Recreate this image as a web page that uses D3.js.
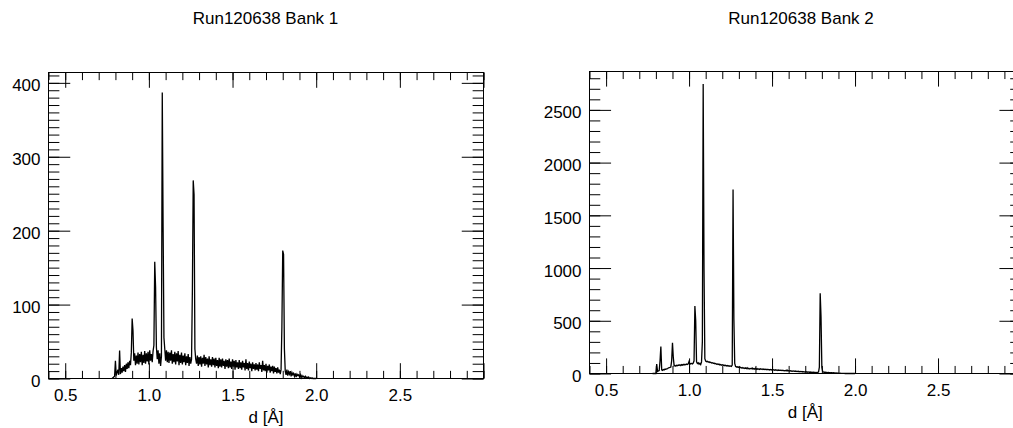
<!DOCTYPE html>
<html>
<head>
<meta charset="utf-8">
<script src="https://cdn.jsdelivr.net/npm/d3@7/dist/d3.min.js"></script>
<style>
html,body{margin:0;padding:0;background:#fff;}
svg{display:block;}
text{font-family:"Liberation Sans",Arial,Helvetica,sans-serif;fill:#000;}
</style>
</head>
<body>
<svg id="chart" width="1013" height="428"></svg>
<script>
// ---------------- DATA ----------------
const titles = ["Run120638 Bank 1", "Run120638 Bank 2"];
const xLabel = "d [\u00C5]";
const xDomain = [0.4, 3.0];
const xTicks = [0.5, 1.0, 1.5, 2.0, 2.5, 3.0];
const bank1YTicks = [0, 100, 200, 300, 400];
const bank2YTicks = [0, 500, 1000, 1500, 2000, 2500];
const bank1YMax = 414;
const bank2YMax = 2864;

// histogram bins: first bin centre and bin width in d (Angstrom)
const binStart = 0.780;
const binWidth = 0.005;

const bank1Counts = [
 0,1,2,3,24,4,8,12,5,38,
 6,14,8,16,10,18,9,20,13,22,
 14,24,18,35,81,65,24,34,18,31,
 20,35,19,33,22,36,18,32,21,37,
 20,34,23,36,19,38,24,33,22,37,
 45,158,124,42,26,38,20,34,17,30,
 387,205,55,40,24,38,22,36,21,35,
 24,38,20,33,22,36,19,34,23,37,
 18,32,21,35,19,31,22,34,18,30,
 21,33,17,29,20,26,120,268,249,40,
 26,20,31,17,29,19,30,16,28,20,
 32,17,29,19,27,15,30,18,26,16,
 29,18,27,15,28,17,25,14,28,16,
 26,15,27,17,24,13,26,16,25,14,
 27,15,23,13,26,16,24,12,25,15,
 22,13,25,14,22,12,24,15,21,11,
 26,13,21,11,23,14,20,10,22,13,
 19,11,21,12,19,10,22,13,18,9,
 24,11,18,10,20,8,17,11,19,8,
 16,10,17,7,16,9,14,7,15,8,
 12,6,12,70,173,168,40,10,5,12,
 4,9,6,10,3,8,5,7,3,7,
 2,6,4,5,2,5,1,4,2,3,
 1,3,1,2,1,2,0,1,0,1,
 0,0,0,0,0
];

const bank2Counts = [
 0,0,0,0,0,90,20,25,28,120,
 255,35,30,38,34,42,39,45,47,52,
 55,58,62,120,292,150,72,76,70,78,
 74,80,77,82,75,84,79,86,81,88,
 83,90,85,92,115,88,93,96,91,99,
 120,640,500,110,95,102,88,96,85,110,
 300,2745,1000,140,118,112,116,108,111,104,
 107,100,103,96,99,92,95,88,91,85,
 89,82,86,79,83,77,80,74,78,72,
 76,70,74,68,72,67,80,1745,520,95,
 68,62,64,58,61,55,59,52,56,50,
 54,48,53,46,55,44,50,43,48,45,
 52,41,47,42,50,40,46,41,44,39,
 45,40,43,38,42,37,41,36,40,35,
 39,34,38,33,37,32,36,31,35,30,
 34,29,33,30,32,28,31,27,30,26,
 29,25,34,24,27,23,26,22,25,21,
 24,20,23,19,22,18,21,17,20,16,
 19,15,18,14,17,13,16,12,15,12,
 14,11,13,10,12,10,11,9,11,10,
 14,60,760,540,60,18,14,12,13,10,
 11,9,10,8,9,7,8,6,7,5,
 6,4,5,3,4,2,3,2,2,1,
 1,1,0,0,0,0,0,0,0,0,
 0,0,0,0,0
];

// ---------------- LAYOUT ----------------
const svg = d3.select("#chart");
const panels = [
  {counts: bank1Counts, yMax: bank1YMax, yTicks: bank1YTicks, yMinorStep: 10,
   left: 48.5, right: 483.5, top: 72.5, bottom: 378.5, titleX: 265.5},
  {counts: bank2Counts, yMax: bank2YMax, yTicks: bank2YTicks, yMinorStep: 100,
   left: 589.5, right: 1021, top: 71.5, bottom: 373.5, titleX: 801}
];

const fontSize = 17;

panels.forEach((p, k) => {
  const w = p.right - p.left, h = p.bottom - p.top;
  const x = d3.scaleLinear().domain(xDomain).range([p.left, p.right]);
  const y = d3.scaleLinear().domain([0, p.yMax]).range([p.bottom, p.top]);
  const xMajLen = 0.05 * h, xMinLen = xMajLen / 2;
  const yMajLen = 0.05 * w, yMinLen = yMajLen / 2;
  const xMinor = d3.range(0, 27).map(i => +(0.4 + i * 0.1).toFixed(2));
  const yMinor = d3.range(0, Math.floor(p.yMax / p.yMinorStep) + 1).map(i => i * p.yMinorStep);

  const g = svg.append("g");

  // title
  g.append("text").attr("x", p.titleX).attr("y", 24)
    .attr("text-anchor", "middle").style("font-size", fontSize + "px")
    .text(titles[k]);

  // data line
  const line = d3.line()
    .x((v, i) => x(binStart + i * binWidth))
    .y(v => y(v));
  g.append("path").datum(p.counts)
    .attr("fill", "none").attr("stroke", "#000").attr("stroke-width", 1.3)
    .attr("stroke-linejoin", "miter")
    .attr("d", line);

  const styleAxis = sel => {
    sel.select(".domain").remove();
    sel.selectAll(".tick line").attr("stroke", "#000").attr("stroke-width", 1);
    sel.selectAll("text").style("font-size", fontSize + "px")
      .style("font-family", '"Liberation Sans",Arial,Helvetica,sans-serif').attr("fill", "#000");
  };

  // bottom axis: minor + major (labelled)
  g.append("g").attr("transform", `translate(0,${p.bottom})`)
    .call(d3.axisBottom(x).tickValues(xMinor).tickSize(-xMinLen).tickFormat(""))
    .call(styleAxis);
  g.append("g").attr("transform", `translate(0,${p.bottom})`)
    .call(d3.axisBottom(x).tickValues(xTicks).tickSize(-xMajLen).tickPadding(10)
      .tickFormat(v => v >= 3 ? "" : d3.format(".1f")(v)))
    .call(styleAxis);
  // top axis
  g.append("g").attr("transform", `translate(0,${p.top})`)
    .call(d3.axisTop(x).tickValues(xMinor).tickSize(-xMinLen).tickFormat(""))
    .call(styleAxis);
  g.append("g").attr("transform", `translate(0,${p.top})`)
    .call(d3.axisTop(x).tickValues(xTicks).tickSize(-xMajLen).tickFormat(""))
    .call(styleAxis);
  // left axis
  g.append("g").attr("transform", `translate(${p.left},0)`)
    .call(d3.axisLeft(y).tickValues(yMinor).tickSize(-yMinLen).tickFormat(""))
    .call(styleAxis);
  const ly = g.append("g").attr("transform", `translate(${p.left},0)`)
    .call(d3.axisLeft(y).tickValues(p.yTicks).tickSize(-yMajLen).tickPadding(8)
      .tickFormat(d3.format("d")))
    .call(styleAxis);
  ly.selectAll("text").attr("dy", "0.47em");
  // right axis
  g.append("g").attr("transform", `translate(${p.right},0)`)
    .call(d3.axisRight(y).tickValues(yMinor).tickSize(-yMinLen).tickFormat(""))
    .call(styleAxis);
  g.append("g").attr("transform", `translate(${p.right},0)`)
    .call(d3.axisRight(y).tickValues(p.yTicks).tickSize(-yMajLen).tickFormat(""))
    .call(styleAxis);

  // frame
  g.append("rect").attr("x", p.left).attr("y", p.top).attr("width", w).attr("height", h)
    .attr("fill", "none").attr("stroke", "#000").attr("stroke-width", 1);

  // x axis title
  g.append("text").attr("x", (p.left + p.right) / 2).attr("y", p.bottom + 44.5)
    .attr("text-anchor", "middle").style("font-size", fontSize + "px")
    .text(xLabel);
});
</script>
</body>
</html>
